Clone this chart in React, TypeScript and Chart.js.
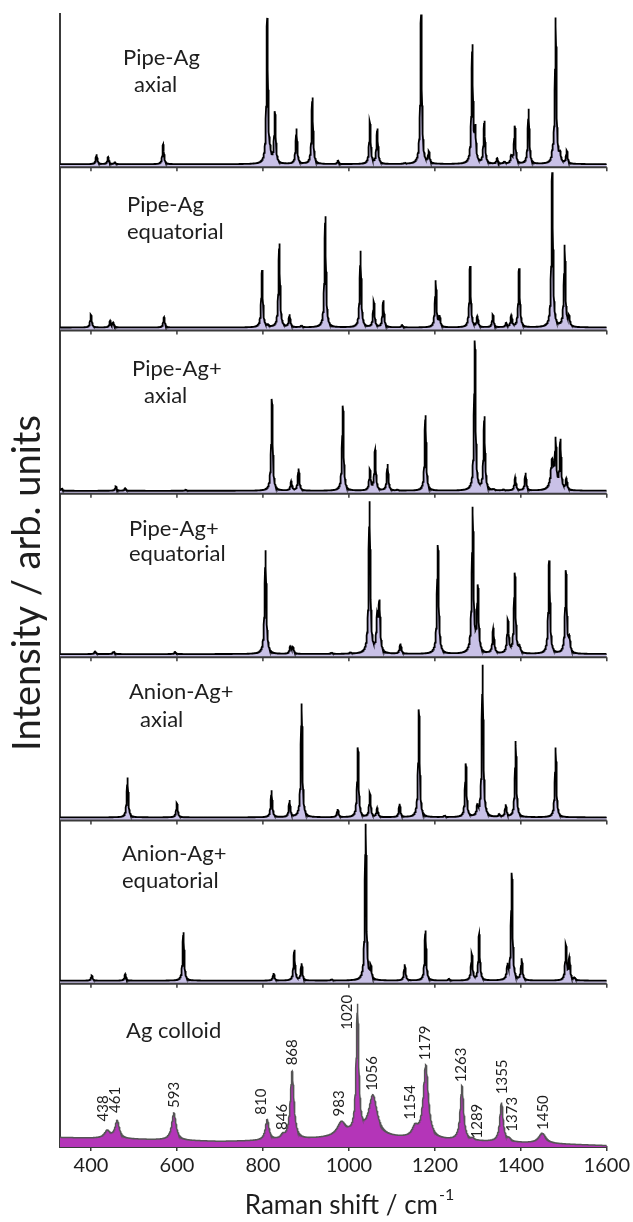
import { useEffect, useRef } from 'react';
import { Chart, registerables } from 'chart.js';

Chart.register(...registerables);

// ---------------- data ----------------
const xMin = 328;
const xMax = 1600;
const xTickValues = [400, 600, 800, 1000, 1200, 1400, 1600];

const panelTitles = [
  ['Pipe-Ag', 'axial'],
  ['Pipe-Ag', 'equatorial'],
  ['Pipe-Ag+', 'axial'],
  ['Pipe-Ag+', 'equatorial'],
  ['Anion-Ag+', 'axial'],
  ['Anion-Ag+', 'equatorial'],
  ['Ag colloid'],
];

// Pipe-Ag axial
const pipeAgAxialPos = [413, 440, 456, 568, 810, 817, 828, 878, 915, 975, 1049, 1066, 1130, 1168, 1186, 1287, 1294, 1315, 1345, 1362, 1378, 1386, 1418, 1474, 1481, 1491, 1507];
const pipeAgAxialInt = [29, 21, 5, 59, 427, 20, 150, 104, 196, 10, 124, 103, 3, 440, 33, 345, 91, 125, 16, 7, 22, 111, 162, 20, 429, 25, 37];

// Pipe-Ag equatorial
const pipeAgEqPos = [400, 445, 452, 570, 798, 812, 838, 862, 890, 945, 1027, 1058, 1080, 1124, 1202, 1211, 1282, 1299, 1335, 1366, 1378, 1396, 1473, 1502, 1512];
const pipeAgEqInt = [38, 20, 14, 30, 168, 5, 246, 37, 5, 327, 225, 75, 79, 7, 137, 30, 180, 32, 37, 12, 35, 173, 455, 240, 28];

// Pipe-Ag+ axial
const pipeAgpAxPos = [332, 458, 480, 621, 821, 866, 883, 986, 1049, 1061, 1090, 1113, 1178, 1293, 1315, 1337, 1360, 1387, 1411, 1473, 1481, 1492, 1506];
const pipeAgpAxInt = [8, 13, 8, 3, 270, 28, 65, 250, 60, 118, 78, 3, 222, 440, 215, 3, 3, 40, 52, 85, 137, 144, 33];
const pipeAgpAxWid = [2, 2, 2, 2, 2, 2, 2, 2, 2, 2, 2, 2, 2, 2, 2, 2, 2, 2, 2, 4, 2, 2, 2];

// Pipe-Ag+ equatorial
const pipeAgpEqPos = [410, 453, 596, 806, 864, 870, 960, 1004, 1048, 1066, 1071, 1120, 1207, 1288, 1300, 1336, 1370, 1386, 1397, 1466, 1505, 1513];
const pipeAgpEqInt = [8, 8, 6, 305, 22, 18, 4, 4, 446, 100, 140, 30, 320, 426, 190, 75, 96, 236, 18, 274, 243, 38];

// Anion-Ag+ axial
const anionAxPos = [485, 600, 820, 862, 890, 974, 1021, 1049, 1066, 1118, 1163, 1223, 1272, 1299, 1311, 1350, 1365, 1388, 1481];
const anionAxInt = [117, 42, 79, 49, 334, 24, 205, 70, 27, 39, 317, 5, 157, 28, 447, 8, 36, 224, 205];

// Anion-Ag+ equatorial
const anionEqPos = [402, 480, 615, 825, 873, 890, 960, 1039, 1051, 1130, 1178, 1233, 1286, 1303, 1369, 1379, 1402, 1505, 1513, 1525];
const anionEqInt = [15, 20, 142, 22, 90, 50, 4, 460, 35, 48, 147, 5, 77, 135, 40, 315, 63, 103, 65, 8];

// Ag colloid (SERS) spectrum
const colloidPos = [438, 461, 593, 810, 846, 868, 983, 1020, 1056, 1154, 1179, 1263, 1289, 1355, 1373, 1450];
const colloidInt = [22, 52, 80, 60, 10, 200, 40, 375, 120, 28, 215, 160, 5, 115, 8, 30];
const colloidWid = [8, 6, 6, 5, 5, 5, 12, 3.5, 12, 8, 7, 4.5, 4, 4.5, 5, 10];
const colloidBgX = [328, 420, 520, 700, 800, 900, 1000, 1100, 1250, 1400, 1500, 1600];
const colloidBgY = [28, 25, 22, 16, 18, 22, 30, 26, 18, 12, 8, 4];

// peak labels of the colloid spectrum
const colloidLabels = ['438', '461', '593', '810', '846', '868', '983', '1020', '1056', '1154', '1179', '1263', '1289', '1355', '1373', '1450'];
const colloidLabelX = [429, 457, 593, 797, 844, 869, 978, 997, 1055, 1143, 1178, 1262, 1298, 1356, 1380, 1453];
const colloidLabelY = [75, 100, 115, 95, 50, 240, 90, 345, 165, 80, 255, 190, 25, 155, 45, 50];

const flatBaselineX = [xMin, xMax];
const flatBaselineY = [9, 9];

const panelMax = [451, 480, 480, 480, 480, 480, 480];

// ---------------- helpers ----------------
function baselineAt(x: number, bx: number[], by: number[]) {
  for (let i = 0; i < bx.length - 1; i++) {
    if (x >= bx[i] && x <= bx[i + 1]) {
      const t = (x - bx[i]) / (bx[i + 1] - bx[i]);
      return by[i] + t * (by[i + 1] - by[i]);
    }
  }
  return by[by.length - 1];
}

function spectrum(pos: number[], amp: number[], wid: number[] | number, bx: number[], by: number[]) {
  const pts: { x: number; y: number }[] = [];
  const n = Math.round((xMax - xMin) / 0.5);
  for (let k = 0; k <= n; k++) {
    const x = xMin + k * 0.5;
    let y = baselineAt(x, bx, by);
    for (let i = 0; i < pos.length; i++) {
      const g = Array.isArray(wid) ? wid[i] : wid;
      const d = (x - pos[i]) / g;
      y += amp[i] / (1 + d * d);
    }
    pts.push({ x, y });
  }
  return pts;
}

const FONT = 'Lato, "Open Sans", "DejaVu Sans", sans-serif';
const panelIds = ['y1', 'y2', 'y3', 'y4', 'y5', 'y6', 'y7'];

// label layout: [left, centerOffsetFromPanelTop] per line
const titleLayout = [
  [[123, 44], [134, 71]],
  [[127, 38], [127, 65]],
  [[132, 38], [144, 65]],
  [[129, 35], [129, 60]],
  [[129, 35], [140, 63]],
  [[122, 33], [122, 60]],
  [[126, 47]],
];

const decorPlugin = {
  id: 'decor',
  afterDatasetsDraw(chart: any) {
    const ctx = chart.ctx;
    const xs = chart.scales.x;
    const area = chart.chartArea;
    ctx.save();
    panelIds.forEach((id, i) => {
      const ys = chart.scales[id];
      const yb = ys.getPixelForValue(0);
      if (i < 6) {
        ctx.strokeStyle = '#3a3a3a';
        ctx.lineWidth = 2;
        ctx.beginPath();
        ctx.moveTo(area.left, yb);
        ctx.lineTo(area.right, yb);
        ctx.stroke();
        ctx.lineWidth = 1.5;
        xTickValues.forEach((v) => {
          const px = xs.getPixelForValue(v);
          ctx.beginPath();
          ctx.moveTo(px, yb);
          ctx.lineTo(px, yb + 4);
          ctx.stroke();
        });
      }
      // panel name
      ctx.fillStyle = '#1e1e1e';
      ctx.font = `22px ${FONT}`;
      ctx.textAlign = 'left';
      ctx.textBaseline = 'middle';
      panelTitles[i].forEach((t, j) => {
        const [lx, oy] = titleLayout[i][j];
        ctx.fillText(t, lx, ys.top + oy);
      });
    });
    // colloid peak labels
    const yc = chart.scales.y7;
    ctx.font = `15px ${FONT}`;
    ctx.fillStyle = '#1e1e1e';
    colloidLabels.forEach((t, i) => {
      const px = xs.getPixelForValue(colloidLabelX[i]);
      const py = yc.getPixelForValue(colloidLabelY[i]);
      ctx.save();
      ctx.translate(px, py);
      ctx.rotate(-Math.PI / 2);
      ctx.textAlign = 'left';
      ctx.textBaseline = 'middle';
      ctx.fillText(t, 0, 0);
      ctx.restore();
    });
    // y title
    ctx.save();
    ctx.translate(28, 583);
    ctx.rotate(-Math.PI / 2);
    ctx.font = `38px ${FONT}`;
    ctx.textAlign = 'center';
    ctx.textBaseline = 'middle';
    ctx.fillStyle = '#1e1e1e';
    ctx.fillText('Intensity / arb. units', 0, 0);
    ctx.restore();
    // x title with superscript
    ctx.font = `26px ${FONT}`;
    const main = 'Raman shift / cm';
    const w1 = ctx.measureText(main).width;
    ctx.font = `16px ${FONT}`;
    const w2 = ctx.measureText('-1').width;
    const startX = 349 - (w1 + w2) / 2;
    ctx.textAlign = 'left';
    ctx.textBaseline = 'alphabetic';
    ctx.font = `26px ${FONT}`;
    ctx.fillText(main, startX, 1214);
    ctx.font = `16px ${FONT}`;
    ctx.fillText('-1', startX + w1 + 1, 1200);
    ctx.restore();
  },
};

export default function App() {
  const ref = useRef<HTMLCanvasElement | null>(null);
  useEffect(() => {
    if (!ref.current) return;
    const specs = [
      spectrum(pipeAgAxialPos, pipeAgAxialInt, 2, flatBaselineX, flatBaselineY),
      spectrum(pipeAgEqPos, pipeAgEqInt, 2, flatBaselineX, flatBaselineY),
      spectrum(pipeAgpAxPos, pipeAgpAxInt, pipeAgpAxWid, flatBaselineX, flatBaselineY),
      spectrum(pipeAgpEqPos, pipeAgpEqInt, 2.2, flatBaselineX, flatBaselineY),
      spectrum(anionAxPos, anionAxInt, 2, flatBaselineX, flatBaselineY),
      spectrum(anionEqPos, anionEqInt, 2, flatBaselineX, flatBaselineY),
      spectrum(colloidPos, colloidInt, colloidWid, colloidBgX, colloidBgY),
    ];
    const scales: any = {
      x: {
        type: 'linear',
        min: xMin,
        max: xMax,
        z: 1,
        afterBuildTicks: (s: any) => {
          s.ticks = xTickValues.map((v) => ({ value: v }));
        },
        afterFit: (s: any) => {
          s.height = 75;
        },
        ticks: {
          font: { family: FONT, size: 20 },
          color: '#1e1e1e',
          padding: 3,
          maxRotation: 0,
          autoSkip: false,
          callback: (v: any) => String(v),
        },
        grid: { drawOnChartArea: false, drawTicks: true, tickLength: 4, color: '#3a3a3a', lineWidth: 1.5 },
        border: { display: true, color: '#3a3a3a', width: 2 },
      },
    };
    // stacked left axes are laid out bottom-up, so add the bottom panel first
    for (let i = panelIds.length - 1; i >= 0; i--) {
      scales[panelIds[i]] = {
        type: 'linear',
        position: 'left',
        stack: 'panels',
        stackWeight: i === 0 ? 153.3 : 163.3,
        min: 0,
        max: panelMax[i],
        z: 1,
        afterFit: (s: any) => {
          s.width = 60;
        },
        ticks: { display: false },
        grid: { display: false, drawTicks: false },
        border: { display: true, color: '#3a3a3a', width: 2 },
      };
    }
    const chart = new Chart(ref.current, {
      type: 'line',
      data: {
        datasets: specs.map((d, i) => ({
          data: d,
          yAxisID: panelIds[i],
          borderColor: i < 6 ? '#000000' : '#555555',
          borderWidth: i < 6 ? 1.8 : 1.5,
          backgroundColor: i < 6 ? '#c9c1e7' : '#b435b8',
          fill: 'origin',
          pointRadius: 0,
          tension: 0,
        })),
      },
      options: {
        animation: false,
        responsive: true,
        maintainAspectRatio: false,
        parsing: false,
        normalized: true,
        layout: { padding: { top: 14, right: 25, left: 0, bottom: 0 } },
        plugins: { legend: { display: false }, tooltip: { enabled: false }, title: { display: false } },
        scales,
      } as any,
      plugins: [decorPlugin],
    });
    return () => chart.destroy();
  }, []);
  return (
    <div style={{ position: 'absolute', left: 0, top: 0, width: 633, height: 1222, overflow: 'hidden', background: '#fff' }}>
      <canvas ref={ref} />
    </div>
  );
}
